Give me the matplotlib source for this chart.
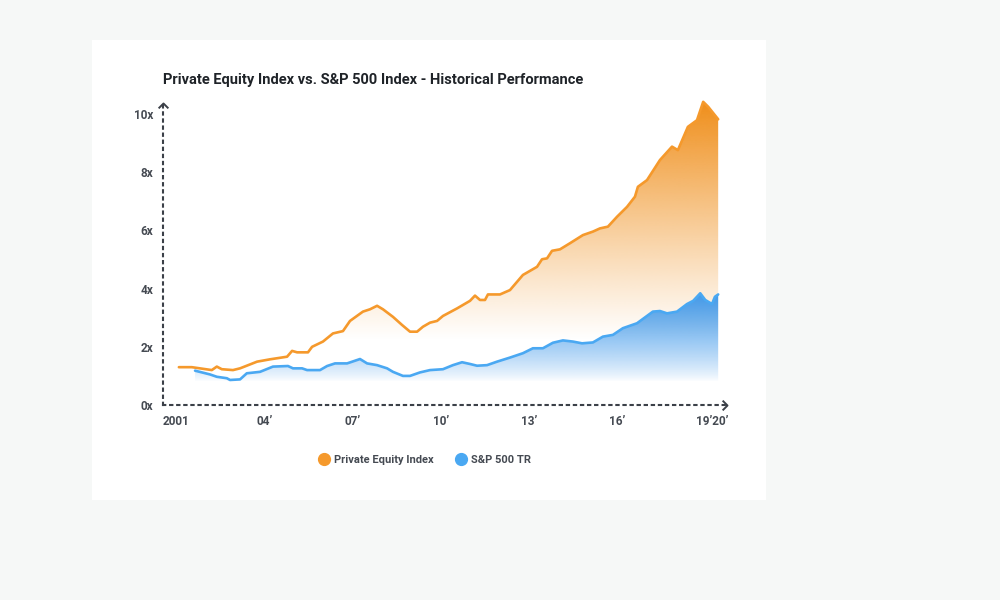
import numpy as np
import matplotlib
matplotlib.use('Agg')
import matplotlib.pyplot as plt
import matplotlib.colors as mcolors
from matplotlib.patches import Rectangle
from matplotlib.path import Path
from matplotlib.lines import Line2D

plt.rcParams['font.family'] = ['Roboto', 'DejaVu Sans']

# values (x = fractional year, y = growth multiple)
pe_years = [2001.10, 2001.54, 2002.22, 2002.39, 2002.56, 2002.94, 2003.18, 2003.76,
            2004.20, 2004.78, 2004.95, 2005.12, 2005.49, 2005.63, 2006.00, 2006.34,
            2006.68, 2006.92, 2007.36, 2007.60, 2007.84, 2008.04, 2008.38, 2008.69,
            2008.96, 2009.20, 2009.40, 2009.64, 2009.88, 2010.08, 2010.56, 2011.00,
            2011.17, 2011.34, 2011.51, 2011.61, 2012.02, 2012.36, 2012.80, 2013.28,
            2013.45, 2013.62, 2013.79, 2014.06, 2014.40, 2014.84, 2015.18, 2015.42,
            2015.69, 2016.00, 2016.34, 2016.61, 2016.71, 2017.02, 2017.46, 2017.87,
            2018.07, 2018.41, 2018.72, 2018.93, 2019.10, 2019.44]
pe_values = [1.30, 1.30, 1.20, 1.32, 1.23, 1.20, 1.26, 1.49,
             1.57, 1.66, 1.86, 1.81, 1.81, 2.00, 2.18, 2.46,
             2.54, 2.89, 3.21, 3.29, 3.41, 3.29, 3.03, 2.75,
             2.52, 2.52, 2.69, 2.83, 2.89, 3.06, 3.32, 3.58,
             3.76, 3.61, 3.61, 3.80, 3.80, 3.95, 4.47, 4.75,
             5.01, 5.04, 5.30, 5.35, 5.56, 5.84, 5.96, 6.07,
             6.13, 6.47, 6.81, 7.16, 7.50, 7.73, 8.42, 8.88,
             8.76, 9.56, 9.79, 10.42, 10.25, 9.82]

sp_years = [2001.65, 2002.16, 2002.39, 2002.73, 2002.84, 2003.18, 2003.41, 2003.86,
            2004.30, 2004.81, 2004.98, 2005.29, 2005.46, 2005.90, 2006.14, 2006.41,
            2006.82, 2007.26, 2007.50, 2007.84, 2008.18, 2008.38, 2008.72, 2008.96,
            2009.30, 2009.64, 2010.08, 2010.42, 2010.73, 2011.00, 2011.24, 2011.58,
            2011.92, 2012.36, 2012.80, 2013.14, 2013.48, 2013.82, 2014.16, 2014.50,
            2014.81, 2015.18, 2015.52, 2015.86, 2016.20, 2016.68, 2017.22, 2017.46,
            2017.70, 2018.04, 2018.38, 2018.59, 2018.83, 2019.00, 2019.23, 2019.33,
            2019.44]
sp_values = [1.18, 1.05, 0.97, 0.92, 0.86, 0.88, 1.09, 1.14,
             1.32, 1.34, 1.26, 1.26, 1.20, 1.20, 1.34, 1.43,
             1.43, 1.58, 1.43, 1.37, 1.26, 1.14, 1.00, 1.00,
             1.12, 1.20, 1.23, 1.37, 1.47, 1.41, 1.35, 1.37,
             1.49, 1.63, 1.78, 1.95, 1.95, 2.14, 2.22, 2.18,
             2.12, 2.15, 2.35, 2.41, 2.64, 2.81, 3.21, 3.23,
             3.15, 3.21, 3.47, 3.58, 3.84, 3.61, 3.47, 3.72,
             3.80]

x_ticks = [2001, 2004, 2007, 2010, 2013, 2016, 2019.25]
x_labels = ['2001', '04\u2019', '07\u2019', '10\u2019', '13\u2019', '16\u2019', '19\u201920\u2019']
y_ticks = [0, 2, 4, 6, 8, 10]
y_labels = ['0x', '2x', '4x', '6x', '8x', '10x']

ORANGE_FILL = '#f0901e'
ORANGE_LINE = '#f5992c'
BLUE_FILL = '#3d97ea'
BLUE_LINE = '#4aa8f2'
AXIS_COL = '#3b4048'
TEXT_COL = '#454a52'


def gradient_fill(ax, x, y, color, v_lo, v_hi, power, ymax, zorder):
    """fill under the curve with a vertical alpha gradient, clipped to the area"""
    x = np.asarray(x)
    y = np.asarray(y)
    poly = ax.fill_between(x, y, 0, facecolor='none', edgecolor='none')
    levels = np.linspace(0, ymax, 400)
    alpha = np.clip((levels - v_lo) / (v_hi - v_lo), 0, 1) ** power
    img = np.zeros((len(levels), 1, 4))
    img[:, :, :3] = mcolors.to_rgb(color)
    img[:, 0, 3] = alpha
    im = ax.imshow(img, aspect='auto', origin='lower', interpolation='bilinear',
                   extent=[x.min(), x.max(), 0, ymax], zorder=zorder)
    im.set_clip_path(poly.get_paths()[0], transform=ax.transData)


fig = plt.figure(figsize=(10, 6), dpi=100)
fig.patch.set_facecolor('#f6f8f7')
card = Rectangle((0.092, 0.1667), 0.674, 0.767, transform=fig.transFigure,
                 facecolor='white', edgecolor='none', zorder=-10)
fig.patches.append(card)

ax = fig.add_axes([0.163, 0.325, 0.564, 0.514])
ax.set_zorder(1)
ax.set_facecolor('none')
xlim = (2000.56, 2019.74)
ylim = (0, 10.6)

gradient_fill(ax, pe_years, pe_values, ORANGE_FILL, 2.2, 10.3, 1.1, ylim[1], 1)
gradient_fill(ax, sp_years, sp_values, BLUE_FILL, 0.8, 3.9, 0.8, ylim[1], 2)
ax.plot(pe_years, pe_values, color=ORANGE_LINE, lw=1.9, zorder=3,
        solid_joinstyle='round', solid_capstyle='round')
ax.plot(sp_years, sp_values, color=BLUE_LINE, lw=1.9, zorder=4,
        solid_joinstyle='round', solid_capstyle='round')

ax.set_xlim(*xlim)
ax.set_ylim(*ylim)

for side in ['top', 'right']:
    ax.spines[side].set_visible(False)
for side in ['left', 'bottom']:
    ax.spines[side].set_color(AXIS_COL)
    ax.spines[side].set_linewidth(1.5)
    ax.spines[side].set_linestyle((0, (1.1, 2.3)))
ax.spines['left'].set_bounds(0, 10.38)

# open chevrons at the axis ends
chev_right = Path([(-1, 1), (0, 0), (-1, -1)], [Path.MOVETO, Path.LINETO, Path.LINETO])
chev_up = Path([(-1, -1), (0, 0), (1, -1)], [Path.MOVETO, Path.LINETO, Path.LINETO])
ax.plot([xlim[1]], [0], marker=chev_right, ms=7, mfc='none', mec=AXIS_COL, mew=1.4,
        clip_on=False, zorder=5)
ax.plot([xlim[0]], [10.38], marker=chev_up, ms=7, mfc='none', mec=AXIS_COL, mew=1.4,
        clip_on=False, zorder=5)

ax.set_xticks(x_ticks)
ax.set_xticklabels(x_labels)
ax.set_yticks(y_ticks)
ax.set_yticklabels(y_labels)
ax.tick_params(axis='both', length=0, labelsize=8.5, labelcolor=TEXT_COL)
ax.tick_params(axis='x', pad=7)
ax.tick_params(axis='y', pad=7)
for lab in ax.get_xticklabels() + ax.get_yticklabels():
    lab.set_fontweight('bold')

fig.text(0.163, 0.866, 'Private Equity Index vs. S&P 500 Index - Historical Performance',
         fontsize=10.5, fontweight='bold', color='#1f2328', ha='left', va='center')

handles = [Line2D([], [], ls='none', marker='o', ms=8.5, color=ORANGE_LINE),
           Line2D([], [], ls='none', marker='o', ms=8.5, color=BLUE_LINE)]
leg = fig.legend(handles, ['Private Equity Index', 'S&P 500 TR'], loc='center',
                 bbox_to_anchor=(0.425, 0.233), ncol=2, frameon=False,
                 fontsize=8, handletextpad=0.4, columnspacing=2.0, handlelength=1.0)
for t in leg.get_texts():
    t.set_color(TEXT_COL)
    t.set_fontweight('bold')

fig.savefig('out.png', dpi=100, facecolor=fig.get_facecolor())
